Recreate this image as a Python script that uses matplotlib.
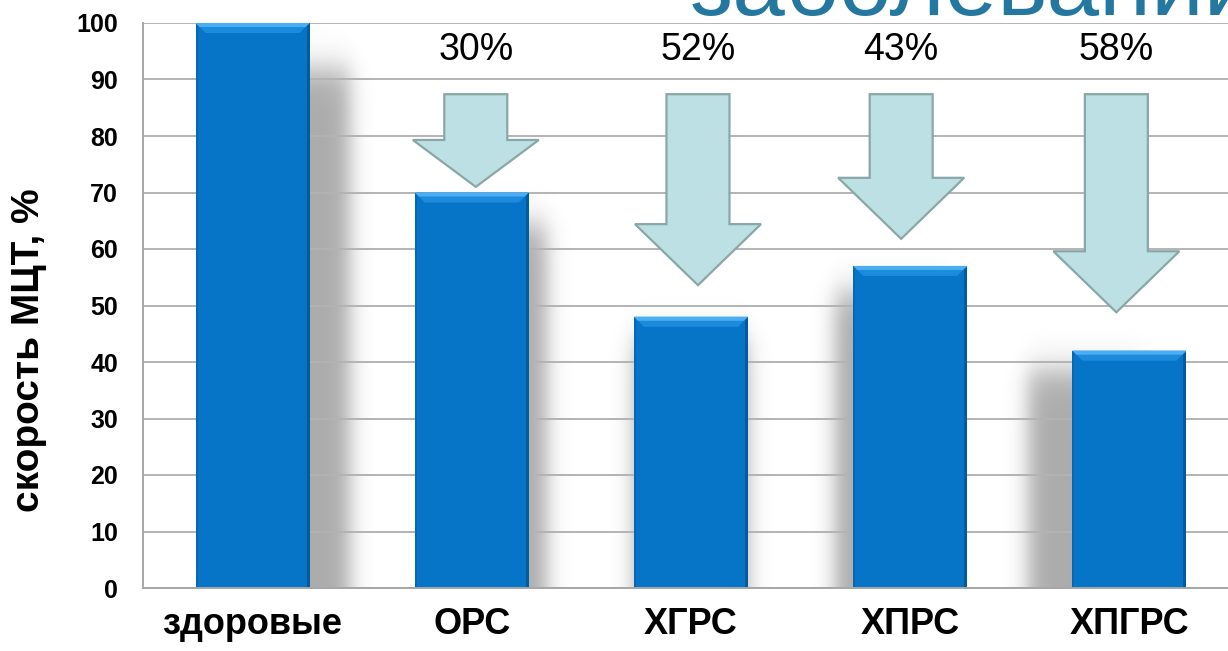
import numpy as np
import matplotlib
matplotlib.use("Agg")
import matplotlib.pyplot as plt
from matplotlib.patches import Rectangle, Polygon

plt.rcParams["font.family"] = ["Liberation Sans", "DejaVu Sans"]

# ---------------------------------------------------------------- data
categories = ["здоровые", "ОРС", "ХГРС", "ХПРС", "ХПГРС"]
speed = [100, 70, 48, 57, 42]               # скорость МЦТ, %
drop_labels = ["30%", "52%", "43%", "58%"]  # снижение относительно здоровых
y_ticks = list(range(0, 101, 10))

# ---------------------------------------------------------------- layout
FIG_W, FIG_H, DPI = 1228, 651, 100
AX_L, AX_R, AX_T, AX_B = 143, 1228, 23, 588      # axes box in pixels
X_LIM = (-0.5, 4.45)
Y_LIM = (0, 100)
PX_X = (X_LIM[1] - X_LIM[0]) / (AX_R - AX_L)     # data units per pixel
PX_Y = (Y_LIM[1] - Y_LIM[0]) / (AX_B - AX_T)

BAR_W = 114 * PX_X
BLUE = "#0675c8"

# shadow offsets (px) and arrow shapes
shadow_dx = [40, 18, 0, -18, -44]
arrow_dx = [4, 7, -9, -13]                 # px shift from bar centre
arrow_top = 87.4
arrow_tip = [71.0, 53.6, 61.8, 48.8]
arrow_head = [8.3, 10.8, 10.8, 10.8]
SHAFT_HW = 31.5 * PX_X
HEAD_HW = 63 * PX_X

fig = plt.figure(figsize=(FIG_W / DPI, FIG_H / DPI), dpi=DPI)
ax = fig.add_axes([AX_L / FIG_W, 1 - AX_B / FIG_H,
                   (AX_R - AX_L) / FIG_W, (AX_B - AX_T) / FIG_H])

x = np.arange(len(categories))

# blurred drop shadows behind the bars
gx = np.linspace(X_LIM[0], X_LIM[1], AX_R - AX_L)
gy = np.linspace(Y_LIM[0], Y_LIM[1], AX_B - AX_T)
GX, GY = np.meshgrid(gx, gy)
s_x, s_y = 6.0 * PX_X, 6.0 * PX_Y


def soft_step(v, edge, s):
    return 1.0 / (1.0 + np.exp(-(v - edge) / s))


alpha = np.zeros_like(GX)
for xi, v, dx in zip(x, speed, shadow_dx):
    x0 = xi - BAR_W / 2 + dx * PX_X
    x1 = xi + BAR_W / 2 + dx * PX_X
    top = v * 0.92
    a = (soft_step(GX, x0, s_x) * (1 - soft_step(GX, x1, s_x))
         * (1 - soft_step(GY, top, s_y * 1.6)))
    alpha = np.maximum(alpha, a)
rgba = np.zeros(GX.shape + (4,))
rgba[..., 3] = alpha * 0.33
ax.imshow(rgba, extent=(X_LIM[0], X_LIM[1], Y_LIM[0], Y_LIM[1]),
          origin="lower", aspect="auto", zorder=0.3, interpolation="bilinear")

# bars with a bevelled top
for xi, v in zip(x, speed):
    x0, x1 = xi - BAR_W / 2, xi + BAR_W / 2
    ax.add_patch(Rectangle((x0, 0), BAR_W, v, facecolor=BLUE,
                           edgecolor="none", zorder=2))
    ax.add_patch(Rectangle((x0, 0), 2 * PX_X, v, facecolor="#0567b6",
                           edgecolor="none", zorder=2.1))
    ax.add_patch(Rectangle((x1 - 3 * PX_X, 0), 3 * PX_X, v,
                           facecolor="#045a9f", edgecolor="none", zorder=2.1))
    bev_x, bev_y = 10 * PX_X, 10 * PX_Y
    ax.add_patch(Polygon([(x0, v), (x1, v), (x1 - bev_x, v - bev_y),
                          (x0 + bev_x, v - bev_y)],
                         closed=True, facecolor="#1d8bdc", edgecolor="none",
                         zorder=2.2))
    ax.add_patch(Polygon([(x0, v), (x1, v), (x1 - 0.4 * bev_x, v - 0.4 * bev_y),
                          (x0 + 0.4 * bev_x, v - 0.4 * bev_y)],
                         closed=True, facecolor="#4aaef2", edgecolor="none",
                         zorder=2.3))

# down arrows and the drop labels
for i, lab in enumerate(drop_labels):
    cx = x[i + 1] + arrow_dx[i] * PX_X
    tip = arrow_tip[i]
    neck = tip + arrow_head[i]
    pts = [(cx - SHAFT_HW, arrow_top), (cx + SHAFT_HW, arrow_top),
           (cx + SHAFT_HW, neck), (cx + HEAD_HW, neck), (cx, tip),
           (cx - HEAD_HW, neck), (cx - SHAFT_HW, neck)]
    ax.add_patch(Polygon(pts, closed=True, facecolor="#bce0e3",
                         edgecolor="#8aa7a8", linewidth=1.6, zorder=3))
    ax.text(cx, 93.4, lab, ha="center", va="baseline", fontsize=27,
            color="black", zorder=4)

ax.set_xlim(*X_LIM)
ax.set_ylim(*Y_LIM)
ax.set_yticks(y_ticks)
ax.set_yticklabels([str(t) for t in y_ticks], fontsize=18, fontweight="bold")
ax.set_xticks(x)
ax.set_xticklabels(categories, fontsize=26, fontweight="bold")
ax.tick_params(axis="y", length=0, pad=18)
ax.tick_params(axis="x", length=0, pad=14)
ax.grid(axis="y", color="#b3b3b3", linewidth=1.4, zorder=0.5)
ax.set_axisbelow(True)
for side in ("top", "right"):
    ax.spines[side].set_visible(False)
for side in ("left", "bottom"):
    ax.spines[side].set_color("#a6a6a6")
    ax.spines[side].set_linewidth(1.4)

fig.text(29 / FIG_W, 1 - 350 / FIG_H, "скорость МЦТ, %", rotation=90,
         ha="center", va="center", fontsize=28, fontweight="bold")

# slide heading, only its lower part falls inside the frame
fig.text(690 / FIG_W, 1 - 15 / FIG_H, "заболеваний", ha="left",
         va="baseline", fontsize=68, color="#24789f")

fig.savefig("out.png", dpi=DPI)
